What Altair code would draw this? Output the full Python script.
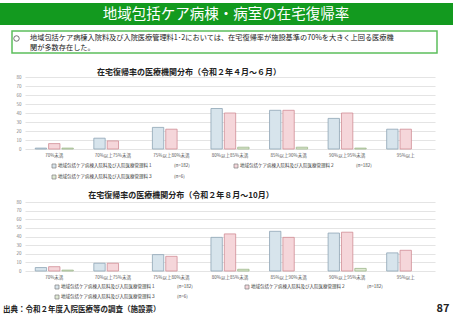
import altair as alt
import pandas as pd

FONT = "Noto Sans CJK JP"

categories = ["70%未満", "70%以上75%未満", "75%以上80%未満", "80%以上85%未満",
              "85%以上90%未満", "90%以上95%未満", "95%以上"]
series = ["料1", "料2", "料3"]
legend_labels = ["地域包括ケア病棟入院料及び入院医療管理料１",
                 "地域包括ケア病棟入院料及び入院医療管理料２",
                 "地域包括ケア病棟入院料及び入院医療管理料３"]
legend_n = ["(n=182)", "(n=182)", "(n=6)"]

# 令和2年4月～6月
p1_s1 = [1, 12, 24, 45, 43, 34, 22]
p1_s2 = [6, 9, 22, 40, 43, 40, 22]
p1_s3 = [1, 0, 0, 2, 2, 1, 0]
# 令和2年8月～10月
p2_s1 = [4, 9, 19, 39, 46, 44, 21]
p2_s2 = [5, 9, 17, 43, 39, 45, 24]
p2_s3 = [1, 0, 0, 2, 0, 3, 0]

y_ticks = [0, 10, 20, 30, 40, 50, 60, 70, 80]

main_title = "地域包括ケア病棟・病室の在宅復帰率"
box_line1 = "地域包括ケア病棟入院料及び入院医療管理料1･2においては、在宅復帰率が施設基準の70%を大きく上回る医療機"
box_line2 = "関が多数存在した。"
chart1_title = "在宅復帰率の医療機関分布（令和２年４月～６月）"
chart2_title = "在宅復帰率の医療機関分布（令和２年８月～10月）"
footer = "出典：令和２年度入院医療等の調査（施設票）"
page_no = "87"

fills = ["#d7e4ec", "#f5d6da", "#dfe9d3"]
strokes = ["#8ea5b5", "#d08d96", "#9db88a"]


def make_df(s1, s2, s3):
    rows = []
    for vals, s in zip([s1, s2, s3], series):
        for c, v in zip(categories, vals):
            if v > 0:
                rows.append({"cat": c, "series": s, "value": v})
    return pd.DataFrame(rows)


df1 = make_df(p1_s1, p1_s2, p1_s3)
df2 = make_df(p2_s1, p2_s2, p2_s3)
cat_df = pd.DataFrame({"cat": categories})
one = pd.DataFrame({"k": [0]})

x_scale = alt.Scale(domain=categories, range=[25, 435], paddingInner=0.35, paddingOuter=0.175)
fill_scale = alt.Scale(domain=series, range=fills)
stroke_scale = alt.Scale(domain=series, range=strokes)


def bars(df, yrange):
    return alt.Chart(df).mark_bar(strokeWidth=0.8).encode(
        x=alt.X("cat:N", sort=categories, scale=x_scale, axis=None),
        xOffset=alt.XOffset("series:N", sort=series,
                            scale=alt.Scale(domain=series, paddingInner=0.15)),
        y=alt.Y("value:Q", scale=alt.Scale(domain=[0, 80], range=yrange),
                axis=alt.Axis(values=y_ticks, grid=True, gridColor="#d9d9d9", gridWidth=0.7,
                              domain=False, ticks=False, labelFontSize=4.5, labelColor="#808080",
                              labelFont=FONT, labelPadding=4, offset=-25, orient="left",
                              title=None)),
        fill=alt.Fill("series:N", scale=fill_scale, legend=None),
        stroke=alt.Stroke("series:N", scale=stroke_scale, legend=None),
    )


def cat_labels(y):
    return alt.Chart(cat_df).mark_text(fontSize=4.5, color="#595959", font=FONT).encode(
        x=alt.X("cat:N", sort=categories, scale=x_scale, axis=None),
        y=alt.value(y),
        text="cat:N",
    )


def text(t, x, y, size, color="#222222", weight="normal", align="left"):
    return alt.Chart(one).mark_text(text=t, fontSize=size, color=color, fontWeight=weight,
                                    font=FONT, align=align, baseline="middle").encode(
        x=alt.value(x), y=alt.value(y))


def rect(x, x2, y, y2, fill, stroke=None, sw=1):
    kw = dict(fill=fill)
    if stroke:
        kw.update(stroke=stroke, strokeWidth=sw)
    return alt.Chart(one).mark_rect(**kw).encode(
        x=alt.value(x), x2=alt.value(x2), y=alt.value(y), y2=alt.value(y2))


def legend_item(i, x0, y0):
    return [
        rect(x0 - 2, x0 + 2, y0 - 2, y0 + 2, fills[i], "#7f7f7f", 0.7),
        text(legend_labels[i], x0 + 4, y0, 4.5, "#404040"),
        text(legend_n[i], x0 + 120, y0, 4.5, "#404040"),
    ]


bullet = alt.Chart(one).mark_point(shape="circle", filled=False, size=30, color="#222222",
                                   strokeWidth=0.9).encode(x=alt.value(16.5), y=alt.value(38.5))

layers = [
    rect(0, 453, 3, 25, "#139a1f"),
    text(main_title, 226, 14.5, 14.5, "white", align="center"),
    rect(12, 437, 31, 53, "white", "#5cbf5c", 1.5),
    bullet,
    text(box_line1, 30, 38, 7.2, "#222222"),
    text(box_line2, 30, 47.5, 7.2, "#222222"),
    text(chart1_title, 189, 73, 8, "#222222", "bold", "center"),
    text(chart2_title, 181, 196, 8, "#222222", "bold", "center"),
    bars(df1, [149, 77]),
    bars(df2, [271, 202]),
    cat_labels(156),
    cat_labels(278),
]
layers += legend_item(0, 54, 166) + legend_item(1, 236, 166) + legend_item(2, 54, 177)
layers += legend_item(0, 57, 287) + legend_item(1, 247, 287) + legend_item(2, 57, 297)
layers += [
    text(footer, 3, 310, 7.5, "#222222", "bold"),
    text(page_no, 443, 309, 11, "#222222", "bold", "center"),
]

chart = alt.layer(*layers).resolve_scale(y="independent").resolve_axis(y="independent").properties(
    width=453, height=320, padding=0, autosize=alt.AutoSizeParams(type="none"),
    background="white",
).configure_view(stroke=None)

chart.save("out.html", embed_options={"renderer": "svg", "actions": False})
